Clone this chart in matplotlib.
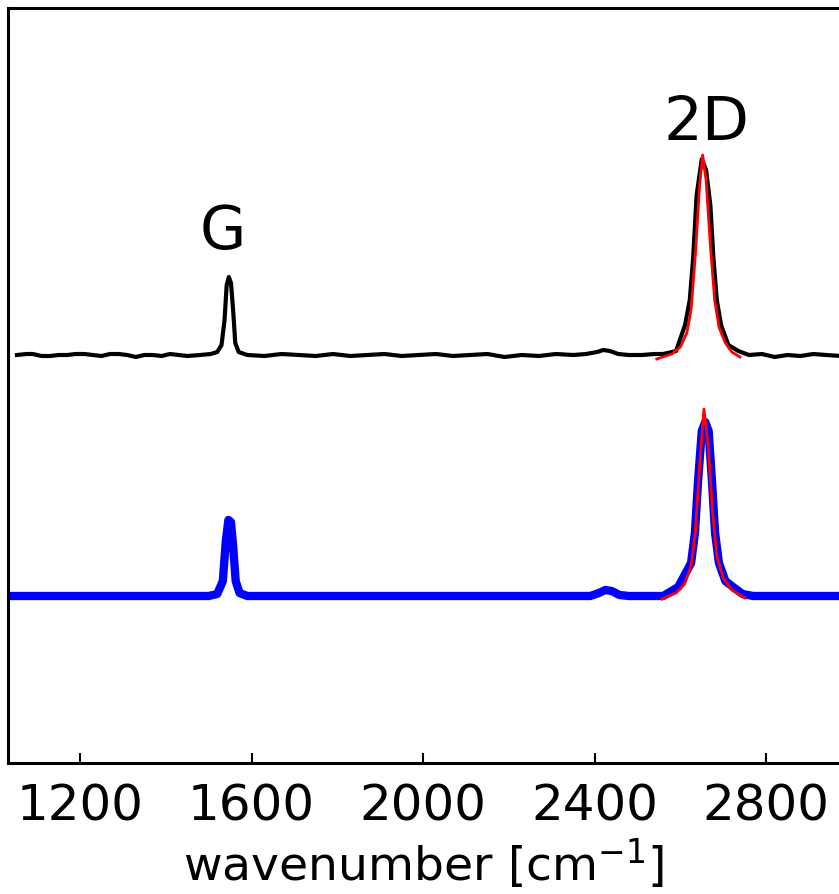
import matplotlib
matplotlib.use("Agg")
import matplotlib.pyplot as plt

# Spectrum 1 (black), intensity above its own baseline [a.u.]
wn_black = [1053, 1075, 1090, 1110, 1130, 1150, 1170, 1190, 1210, 1230, 1250, 1270,
            1290, 1310, 1330, 1350, 1370, 1390, 1410, 1430, 1450, 1480,
            1505, 1520, 1530, 1537, 1542, 1547, 1552, 1557, 1562, 1570, 1590,
            1630, 1670, 1710, 1750, 1790, 1830, 1870, 1910, 1950, 1990, 2030,
            2070, 2110, 2150, 2190, 2230, 2270, 2310, 2350, 2380, 2406, 2420,
            2436, 2455, 2480, 2510, 2540, 2560, 2590, 2611, 2622, 2630, 2638,
            2650, 2660, 2670, 2677, 2685, 2695, 2712, 2735, 2760, 2790, 2820,
            2850, 2880, 2910, 2940, 2975]
int_black = [0, 1, 1, -1, -1, 0, 0, 1, 1, 0, -1, 1,
             1, 0, -2, 0, 0, -1, 1, 0, -1, 0,
             1, 3, 10, 35, 70, 78, 72, 45, 12, 3, 0,
             -1, 1, 0, -1, 1, -1, 0, 1, -1, 0, 1,
             -1, 0, 1, -2, 0, -1, 1, 0, 1, 3, 5,
             4, 1, 0, 0, 1, 1, 4, 30, 55, 98, 160,
             196, 185, 150, 98, 55, 30, 10, 4, 0, 1, -2,
             0, -1, 1, 0, -1]

# Lorentzian fit of the 2D band, spectrum 1 (red)
wn_fit_black = [2545, 2580, 2600, 2615, 2625, 2635, 2645, 2652, 2660, 2670, 2680,
                2690, 2705, 2720, 2739]
int_fit_black = [-4, 1, 8, 22, 45, 100, 170, 200, 175, 110, 55, 28, 12, 3, -2]

# Spectrum 2 (blue)
wn_blue = [1032, 1200, 1400, 1500, 1520, 1533, 1540, 1546, 1552, 1557, 1563, 1572,
           1590, 1800, 2000, 2200, 2390, 2410, 2425, 2440, 2458, 2480, 2560,
           2595, 2625, 2634, 2641, 2650, 2658, 2666, 2674, 2681, 2690, 2705,
           2723, 2745, 2770, 2975]
int_blue = [0, 0, 0, 0, 2, 15, 55, 76, 74, 50, 15, 3,
            0, 0, 0, 0, 0, 3, 6, 5, 1, 0, 0,
            9, 33, 63, 113, 165, 174, 165, 113, 63, 33, 15,
            9, 2, 0, 0]

# Lorentzian fit of the 2D band, spectrum 2 (red)
wn_fit_blue = [2557, 2590, 2610, 2625, 2635, 2645, 2655, 2665, 2675, 2685, 2700,
               2720, 2751]
int_fit_blue = [-3, 3, 12, 30, 65, 130, 187, 150, 85, 40, 18, 6, -2]

offset_black = 408
offset_blue = 167

fig = plt.figure(figsize=(8.39, 8.94), dpi=100)
ax = fig.add_axes([8 / 839, 131 / 894, 831 / 839, 755 / 894])

ax.plot(wn_black, [v + offset_black for v in int_black], color="black", lw=3)
ax.plot(wn_blue, [v + offset_blue for v in int_blue], color="#0000ff", lw=6)
ax.plot(wn_fit_black, [v + offset_black for v in int_fit_black], color="#ff0000", lw=2)
ax.plot(wn_fit_blue, [v + offset_blue for v in int_fit_blue], color="#ff0000", lw=2)

ax.text(1533, 531, "G", fontsize=43, ha="center", va="center")
ax.text(2660, 639, "2D", fontsize=44, ha="center", va="center")

ax.set_xlim(1032, 2970)
ax.set_ylim(0, 755)
ax.set_xticks([1200, 1600, 2000, 2400, 2800])
ax.set_yticks([])
ax.tick_params(axis="x", direction="in", length=7, width=1.5, labelsize=36, pad=14)
ax.set_xlabel("wavenumber [cm$^{-1}$]", fontsize=34, labelpad=4)
for s in ["left", "top", "bottom"]:
    ax.spines[s].set_linewidth(2.2)
ax.spines["right"].set_visible(False)

fig.savefig("out.png", dpi=100)
